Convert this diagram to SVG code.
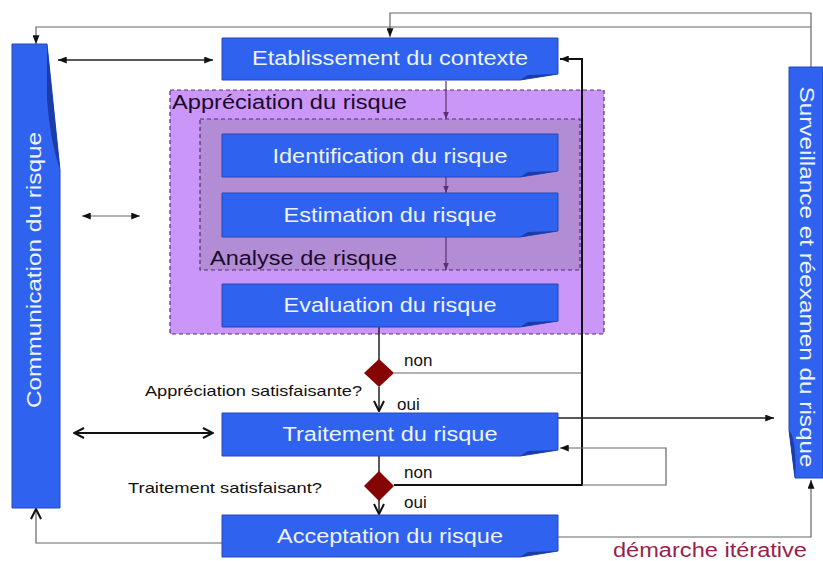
<svg xmlns="http://www.w3.org/2000/svg" width="823" height="561" viewBox="0 0 823 561">
  <defs>
    <style>
      .box { fill: #2f62ef; stroke: #2448b8; stroke-width: 1; }
      .fold { fill: #1c3ca8; }
      .lbl { font-family: "Liberation Sans", Arial, sans-serif; font-size: 20px; fill: #eef3ff; text-anchor: middle; }
      .grp { font-family: "Liberation Sans", Arial, sans-serif; font-size: 20px; fill: #1a0a2a; }
      .small { font-family: "Liberation Sans", Arial, sans-serif; font-size: 15px; fill: #111; }
      .yn { font-family: "Liberation Sans", Arial, sans-serif; font-size: 17px; fill: #111; }
      .thin { fill: none; stroke: #666; stroke-width: 1.2; }
      .dark { fill: none; stroke: #111; stroke-width: 2; }
      .mid { fill: none; stroke: #222; stroke-width: 1.5; }
      .inner { fill: none; stroke: #5a3070; stroke-width: 1.2; }
      .diamond { fill: #850505; }
    </style>
    <marker id="ah" viewBox="0 0 10 8" refX="10" refY="4" markerWidth="9" markerHeight="7" markerUnits="userSpaceOnUse" orient="auto-start-reverse">
      <path d="M0,0 L10,4 L0,8 Z" fill="#111"/>
    </marker>
    <marker id="ahp" viewBox="0 0 10 8" refX="10" refY="4" markerWidth="7" markerHeight="6" markerUnits="userSpaceOnUse" orient="auto">
      <path d="M0,0 L10,4 L0,8 Z" fill="#5a3070"/>
    </marker>
    <marker id="av" viewBox="0 0 12 12" refX="11" refY="6" markerWidth="12" markerHeight="12" markerUnits="userSpaceOnUse" orient="auto-start-reverse">
      <path d="M1,1 L11,6 L1,11" fill="none" stroke="#111" stroke-width="2"/>
    </marker>
  </defs>

  <rect width="823" height="561" fill="#ffffff"/>

  <!-- grouping frames -->
  <g id="appreciation">
    <rect x="170" y="90" width="434" height="244" fill="#ca97f9" stroke="#5a2a7a" stroke-width="1.2" stroke-dasharray="4,3"/>
    <text class="grp" x="172" y="109" textLength="235" lengthAdjust="spacingAndGlyphs">Appréciation du risque</text>
  </g>
  <g id="analyse">
    <rect x="200" y="119" width="380" height="151" fill="#b28dd6" stroke="#5a2a7a" stroke-width="1.2" stroke-dasharray="4,3"/>
    <text class="grp" x="210" y="265" textLength="187" lengthAdjust="spacingAndGlyphs">Analyse de risque</text>
  </g>

  <!-- connectors -->
  <g id="connectors">
    <!-- feedback from monitoring to context and communication -->
    <polyline class="thin" points="811,67 811,13 390,13 390,37" marker-end="url(#ah)"/>
    <polyline class="thin" points="811,27 36,27 36,44" marker-end="url(#ah)"/>
    <!-- communication exchanges -->
    <line class="mid" x1="58" y1="60" x2="213" y2="60" marker-start="url(#ah)" marker-end="url(#ah)"/>
    <line class="thin" x1="82" y1="216" x2="140" y2="216" stroke="#222" marker-start="url(#ah)" marker-end="url(#ah)"/>
    <line class="dark" x1="74" y1="433" x2="213" y2="433" marker-start="url(#av)" marker-end="url(#av)"/>
    <!-- assessment chain -->
    <line class="inner" x1="446" y1="81" x2="446" y2="119" marker-end="url(#ahp)"/>
    <line class="inner" x1="446" y1="177" x2="446" y2="193" marker-end="url(#ahp)"/>
    <line class="inner" x1="446" y1="237" x2="446" y2="270" marker-end="url(#ahp)"/>
    <!-- decisions -->
    <line class="mid" x1="379" y1="327" x2="379" y2="360"/>
    <line class="mid" x1="379" y1="387" x2="379" y2="411" marker-end="url(#av)"/>
    <line class="mid" x1="379" y1="456" x2="379" y2="472"/>
    <line class="mid" x1="379" y1="500" x2="379" y2="514" marker-end="url(#av)"/>
    <line class="thin" x1="394" y1="373" x2="582" y2="373"/>
    <line class="dark" x1="394" y1="485" x2="582" y2="485"/>
    <polyline class="dark" points="582,486 582,59 560,59" stroke-width="1.8" marker-end="url(#ah)"/>
    <polyline class="thin" points="582,485 666,485 666,448 560,448" marker-end="url(#ah)"/>
    <!-- to monitoring -->
    <line class="mid" x1="558" y1="418" x2="774" y2="418" marker-end="url(#ah)"/>
    <polyline class="thin" points="558,537 811,537 811,480" marker-end="url(#ah)"/>
    <polyline class="thin" points="222,543 36,543 36,509" stroke="#333" stroke-width="1.5" marker-end="url(#av)"/>
  </g>

  <!-- side columns -->
  <g id="communication">
    <path class="box" d="M12,44 L47,44 L60,170 L60,508 L12,508 Z"/>
    <path class="fold" d="M47,44 L60,170 Q50,140 47,100 Z"/>
    <text class="lbl" transform="translate(41,270) rotate(-90)" textLength="276" lengthAdjust="spacingAndGlyphs">Communication du risque</text>
  </g>
  <g id="surveillance">
    <path class="box" d="M789,67 L823,67 L823,478 L795,478 L789,430 Z"/>
    <path class="fold" d="M789,430 L795,478 Q797,455 792,435 Z"/>
    <text class="lbl" transform="translate(800,277) rotate(90)" textLength="381" lengthAdjust="spacingAndGlyphs">Surveillance et réexamen du risque</text>
  </g>

  <!-- process steps -->
  <g id="contexte">
    <path class="box" d="M222,38 L558,38 L558,74 L520,80 L222,80 Z"/>
    <path class="fold" d="M520,80 L528,75 L558,74 Z"/>
    <text class="lbl" x="390" y="65" textLength="276" lengthAdjust="spacingAndGlyphs">Etablissement du contexte</text>
  </g>
  <g id="identification">
    <path class="box" d="M222,134 L558,134 L558,171 L520,177 L222,177 Z"/>
    <path class="fold" d="M520,177 L528,172 L558,171 Z"/>
    <text class="lbl" x="390" y="163" textLength="235" lengthAdjust="spacingAndGlyphs">Identification du risque</text>
  </g>
  <g id="estimation">
    <path class="box" d="M222,193 L558,193 L558,231 L520,237 L222,237 Z"/>
    <path class="fold" d="M520,237 L528,232 L558,231 Z"/>
    <text class="lbl" x="390" y="222" textLength="213" lengthAdjust="spacingAndGlyphs">Estimation du risque</text>
  </g>
  <g id="evaluation">
    <path class="box" d="M222,284 L558,284 L558,321 L520,327 L222,327 Z"/>
    <path class="fold" d="M520,327 L528,322 L558,321 Z"/>
    <text class="lbl" x="390" y="312" textLength="213" lengthAdjust="spacingAndGlyphs">Evaluation du risque</text>
  </g>
  <g id="decision-appreciation">
    <path class="diamond" d="M379,359 L394,373 L379,387 L364,373 Z"/>
    <text class="small" x="145" y="396" textLength="217" lengthAdjust="spacingAndGlyphs">Appréciation satisfaisante?</text>
    <text class="yn" x="404" y="366">non</text>
    <text class="yn" x="397" y="410">oui</text>
  </g>
  <g id="traitement">
    <path class="box" d="M222,413 L558,413 L558,450 L520,456 L222,456 Z"/>
    <path class="fold" d="M520,456 L528,451 L558,450 Z"/>
    <text class="lbl" x="390" y="441" textLength="215" lengthAdjust="spacingAndGlyphs">Traitement du risque</text>
  </g>
  <g id="decision-traitement">
    <path class="diamond" d="M379,471 L394,486 L379,501 L364,486 Z"/>
    <text class="small" x="128" y="493" textLength="194" lengthAdjust="spacingAndGlyphs">Traitement satisfaisant?</text>
    <text class="yn" x="404" y="478">non</text>
    <text class="yn" x="404" y="508">oui</text>
  </g>
  <g id="acceptation">
    <path class="box" d="M222,515 L558,515 L558,551 L520,557 L222,557 Z"/>
    <path class="fold" d="M520,557 L528,552 L558,551 Z"/>
    <text class="lbl" x="390" y="543" textLength="226" lengthAdjust="spacingAndGlyphs">Acceptation du risque</text>
  </g>

  <text x="613" y="557" font-family="Liberation Sans, Arial, sans-serif" font-size="20" fill="#991f4d" textLength="194" lengthAdjust="spacingAndGlyphs">démarche itérative</text>
</svg>
